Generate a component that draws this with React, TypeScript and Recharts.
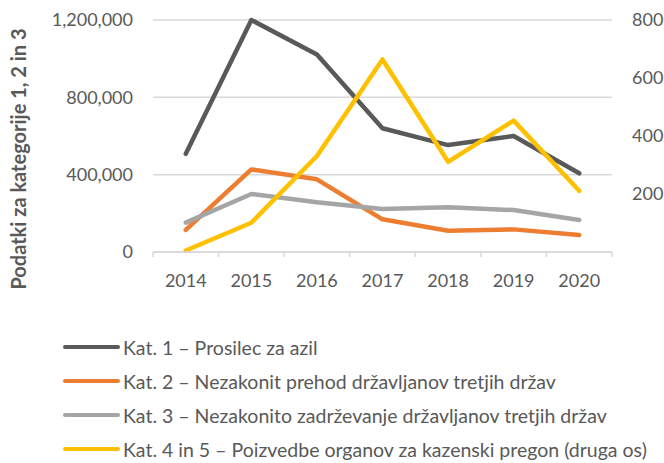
import React from "react";
import { LineChart, Line, XAxis, YAxis, CartesianGrid, Legend } from "recharts";

const years = ["2014", "2015", "2016", "2017", "2018", "2019", "2020"];
const kat1 = [508000, 1200000, 1022000, 640000, 553000, 600000, 407000];
const kat2 = [114000, 427000, 376000, 169000, 110000, 117000, 88000];
const kat3 = [152000, 300000, 257000, 222000, 231000, 217000, 166000];
const kat45 = [5, 101, 331, 664, 311, 453, 211];

const leftTicks = [0, 400000, 800000, 1200000];
const rightTicks = [200, 400, 600, 800];

const TEXT = "#595959";
const GRID = "#d9d9d9";
const FONT = "Lato, 'Open Sans', sans-serif";
const TICK_SIZE = 6;
const TICK_MARGIN = 16;

// line points sit in the middle of each year slot; integer positions are slot borders
const data = years.map((year, i) => ({
  pos: i + 0.5,
  year,
  k1: kat1[i],
  k2: kat2[i],
  k3: kat3[i],
  k45: kat45[i],
}));
const xTicks: number[] = [];
for (let i = 0; i <= years.length * 2; i++) xTicks.push(i / 2);

const YearTick = (props: any) => {
  const { x, y, payload } = props;
  const v = payload.value as number;
  if (Number.isInteger(v)) {
    const top = y - TICK_SIZE - TICK_MARGIN;
    return <line x1={x} x2={x} y1={top} y2={top + 5} stroke={GRID} strokeWidth={1.5} />;
  }
  return (
    <text x={x} y={y} dy="0.71em" textAnchor="middle" fill={TEXT} fontSize={18} fontFamily={FONT}>
      {years[Math.floor(v)]}
    </text>
  );
};

const AxisTitle = () => (
  <text
    x={26}
    y={159}
    transform="rotate(-90 26 159)"
    textAnchor="middle"
    fill={TEXT}
    fontSize={20}
    fontWeight="bold"
    fontFamily={FONT}
  >
    Podatki za kategorije 1, 2 in 3
  </text>
);

const LegendBox = (props: any) => {
  const items = props.payload || [];
  return (
    <div style={{ fontFamily: FONT, fontSize: 19.5, color: TEXT }}>
      {items.map((it: any) => (
        <div key={it.value} style={{ height: 34, display: "flex", alignItems: "center", whiteSpace: "nowrap" }}>
          <div style={{ marginLeft: 63, width: 57, height: 4.5, borderRadius: 3, background: it.color, flexShrink: 0 }} />
          <span style={{ marginLeft: 3 }}>{it.value}</span>
        </div>
      ))}
    </div>
  );
};

const fmt = (v: number) => v.toLocaleString("en-US");

export default function App() {
  const tickStyle = { fill: TEXT, fontSize: 18, fontFamily: FONT };
  return (
    <div style={{ position: "absolute", left: 0, top: 0, width: 664, height: 463, background: "#fff", overflow: "hidden" }}>
      <LineChart width={664} height={463} data={data} margin={{ top: 20, right: 0, bottom: 0, left: 0 }}>
        <CartesianGrid yAxisId="left" vertical={false} stroke={GRID} strokeWidth={1.5} />
        <XAxis
          dataKey="pos"
          type="number"
          domain={[0, years.length]}
          ticks={xTicks}
          interval={0}
          height={78}
          tickLine={false}
          tickSize={TICK_SIZE}
          tickMargin={TICK_MARGIN}
          axisLine={{ stroke: GRID, strokeWidth: 1.5 }}
          tick={<YearTick />}
        />
        <YAxis
          yAxisId="left"
          width={153}
          domain={[0, 1200000]}
          ticks={leftTicks}
          tickFormatter={fmt}
          axisLine={false}
          tickLine={false}
          tickMargin={14}
          tick={tickStyle}
          label={{ content: () => <AxisTitle /> }}
        />
        <YAxis
          yAxisId="right"
          orientation="right"
          width={52}
          domain={[0, 800]}
          ticks={rightTicks}
          axisLine={false}
          tickLine={false}
          tickMargin={14}
          tick={tickStyle}
        />
        <Legend
          content={<LegendBox />}
          wrapperStyle={{ left: 0, top: 330, width: 664, height: 133, overflow: "hidden" }}
        />
        <Line yAxisId="left" dataKey="k1" name="Kat. 1 – Prosilec za azil" stroke="#595959" strokeWidth={4.5} dot={false} strokeLinecap="round" strokeLinejoin="round" isAnimationActive={false} />
        <Line yAxisId="left" dataKey="k2" name="Kat. 2 – Nezakonit prehod državljanov tretjih držav" stroke="#ED7D31" strokeWidth={4.5} dot={false} strokeLinecap="round" strokeLinejoin="round" isAnimationActive={false} />
        <Line yAxisId="left" dataKey="k3" name="Kat. 3 – Nezakonito zadrževanje državljanov tretjih držav" stroke="#A5A5A5" strokeWidth={4.5} dot={false} strokeLinecap="round" strokeLinejoin="round" isAnimationActive={false} />
        <Line yAxisId="right" dataKey="k45" name="Kat. 4 in 5 – Poizvedbe organov za kazenski pregon (druga os)" stroke="#FFC000" strokeWidth={4.5} dot={false} strokeLinecap="round" strokeLinejoin="round" isAnimationActive={false} />
      </LineChart>
    </div>
  );
}
